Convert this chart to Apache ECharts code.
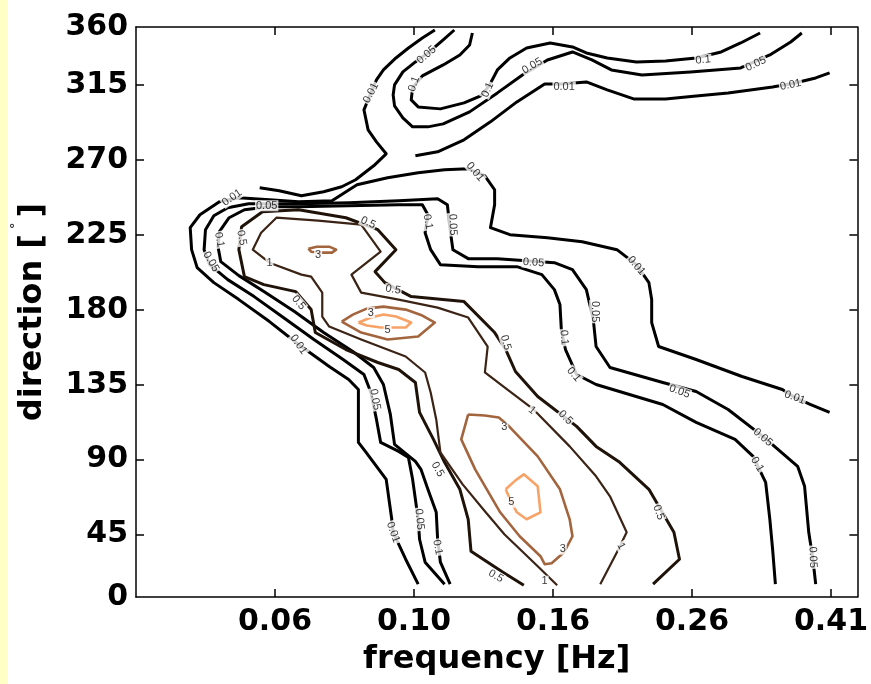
<!DOCTYPE html>
<html>
<head>
<meta charset="utf-8">
<script src="https://cdn.jsdelivr.net/npm/echarts@6/dist/echarts.min.js"></script>
<style>
  html, body { margin: 0; padding: 0; background: #fff; }
  #chart { width: 871px; height: 684px; }
</style>
</head>
<body>
<div id="chart"></div>
<script>
// x axis: frequency bin position (one unit per labelled tick), y axis: direction in degrees
var freqTicks = [0, 1, 2, 3, 4];
var freqLabels = ['0.06', '0.10', '0.16', '0.26', '0.41'];
var dirTicks = [45, 90, 135, 180, 225, 270, 315];
var dirLabelPos = [7.5, 45, 90, 135, 180, 225, 270, 315, 350];
var dirLabels = ['0', '45', '90', '135', '180', '225', '270', '315', '360'];

// contour lines, [frequency position, direction]
var c001NeUpper = [[-0.11,253.4],[0.03,251.6],[0.19,248.6],[0.35,251],[0.48,254],[0.58,258.2],[0.71,266.6],[0.80,273.8],[0.73,281],[0.67,288.2],[0.64,300.2],[0.69,310.4],[0.73,318.2],[0.78,324.2],[0.87,331.4],[0.96,337.4],[1.06,343.4],[1.15,348.2]];
var c001NeLower = [[1.01,272.6],[1.17,275],[1.36,282.2],[1.55,293],[1.74,305],[1.94,315.8],[2.06,315.8],[2.24,317],[2.39,312.2],[2.58,306.8],[2.81,306.8],[3.03,308.6],[3.26,310.4],[3.58,314],[3.74,316.4],[3.89,319.4],[3.99,322.4]];
var c005Ne = [[1.29,348.2],[1.21,342.2],[1.11,335],[1.01,329],[0.92,323],[0.86,315.2],[0.85,309.2],[0.86,302.6],[0.92,295.4],[0.99,290],[1.10,290],[1.21,291.8],[1.40,299],[1.60,310.4],[1.78,321.2],[1.96,330.2],[2.14,335],[2.28,330.2],[2.42,324.2],[2.64,321.2],[2.99,323],[3.35,325.4],[3.56,333.2],[3.71,341],[3.79,346.4]];
var c01Ne = [[1.42,346.4],[1.40,339.2],[1.33,333.2],[1.21,327.2],[1.06,320.6],[0.99,313.4],[0.98,306.2],[1.03,302],[1.19,300.8],[1.36,304.4],[1.48,308.6],[1.54,314.6],[1.60,324.2],[1.69,331.4],[1.81,337.4],[1.98,340.4],[2.14,338],[2.24,334.4],[2.39,331.4],[2.60,329],[2.81,329.6],[3.03,331.4],[3.21,335],[3.35,340.4],[3.49,346.4]];

var c001Sw = [[1.03,15.2],[0.94,30.2],[0.85,46.4],[0.84,54.2],[0.80,78.2],[0.65,95],[0.60,100.4],[0.60,132.2],[0.53,138.2],[0.39,146],[0.17,159.2],[-0.04,173],[-0.26,186.2],[-0.44,196.4],[-0.56,205.4],[-0.60,216.2],[-0.61,229.4],[-0.54,237.2],[-0.40,245],[-0.26,247.4],[-0.04,246.2],[0.17,245],[0.41,245.6],[0.59,255.2],[0.81,259.4],[1.03,262.4],[1.22,264.2],[1.39,264.8],[1.51,260.6],[1.58,252.2],[1.58,243.2],[1.55,229.4],[1.69,225.2],[1.96,223.4],[2.21,221],[2.46,216.2],[2.60,207.2],[2.69,196.4],[2.71,186.2],[2.71,172.4],[2.76,158],[3.03,150.2],[3.36,140],[3.65,132.2],[3.74,127.4],[3.85,123.2],[3.99,118.4]];
var c005Sw = [[1.22,15.2],[1.08,28.4],[1.04,42.2],[1.03,54.2],[1.01,66.2],[0.99,78.2],[0.96,91.4],[0.89,95],[0.76,100.4],[0.73,114.2],[0.69,130.4],[0.64,141.2],[0.49,150.2],[0.28,162.2],[0.06,175.4],[-0.15,188],[-0.34,198.2],[-0.47,207.2],[-0.51,216.2],[-0.50,228.2],[-0.44,236.6],[-0.34,241.4],[-0.19,243.8],[0.17,243.8],[0.53,244.4],[0.89,245.6],[1.17,246.8],[1.24,243.2],[1.26,228.2],[1.28,216.2],[1.39,210.8],[1.60,210.8],[1.81,209.6],[2.01,208.4],[2.14,204.2],[2.24,192.2],[2.29,174.2],[2.31,158],[2.41,145.4],[2.79,136.4],[3.03,131],[3.26,120.2],[3.51,104],[3.76,86],[3.81,74],[3.84,46.4],[3.87,30.2],[3.89,15.2]];
var c01Sw = [[1.26,15.2],[1.19,28.4],[1.17,42.2],[1.16,58.4],[1.10,72.2],[1.05,84.2],[1.01,89],[0.86,99.2],[0.83,117.2],[0.78,135.2],[0.71,145.4],[0.56,155],[0.35,166.4],[0.14,179],[-0.08,191],[-0.26,200.6],[-0.39,209],[-0.41,218],[-0.40,227],[-0.33,235.4],[-0.22,240.2],[-0.04,242],[0.17,242],[0.53,242.6],[0.89,243.2],[1.06,243.2],[1.10,237.2],[1.08,226.4],[1.12,216.2],[1.19,207.2],[1.46,206],[1.74,206],[1.92,201.2],[2.01,192.2],[2.05,183.2],[2.06,168.2],[2.09,156.2],[2.17,141.2],[2.31,135.2],[2.79,123.2],[3.03,112.4],[3.31,102.2],[3.44,92],[3.53,76.4],[3.56,54.2],[3.58,36.2],[3.60,15.2]];
var c05 = [[1.79,14.6],[1.64,22.4],[1.41,35],[1.39,54.2],[1.33,72.2],[1.22,88.4],[1.14,102.2],[1.04,118.4],[1.01,136.4],[0.89,144.2],[0.74,148.4],[0.51,156.2],[0.29,166.4],[0.26,180.2],[0.15,191],[-0.08,195.2],[-0.22,200],[-0.26,216.2],[-0.24,230],[-0.09,239],[0.17,240.2],[0.51,235.4],[0.74,228.2],[0.87,216.2],[0.72,203],[0.79,196.4],[0.98,188],[1.36,185],[1.58,166.4],[1.66,156.2],[1.73,143],[1.89,128],[2.17,110],[2.31,98],[2.48,88.4],[2.69,72.2],[2.87,46.4],[2.91,30.2],[2.72,15.2]];
var c1 = [[2.03,14.6],[1.89,26],[1.65,45.2],[1.51,59],[1.35,75.2],[1.19,94.4],[1.16,114.2],[1.12,130.4],[1.08,142.4],[0.94,152],[0.62,162.2],[0.39,170],[0.34,176],[0.34,190.4],[0.26,200],[0.19,201.2],[-0.04,208.4],[-0.16,216.2],[-0.10,226.4],[0.01,235.4],[0.31,233.6],[0.62,231.2],[0.76,215],[0.55,201.2],[0.62,190.4],[0.89,186.2],[1.17,181.4],[1.39,175.4],[1.53,158],[1.51,142.4],[1.67,132.2],[1.86,120.2],[2.12,98],[2.31,80],[2.41,68],[2.53,46.4],[2.46,34.4],[2.34,15.2]];
var c3Left = [[0.24,216.8],[0.30,218],[0.39,218],[0.44,216.2],[0.41,214.4],[0.33,214.4],[0.26,215],[0.24,216.8]];
var c3Mid = [[0.48,173],[0.56,177.2],[0.66,180.8],[0.78,182],[0.94,180.2],[1.06,176.6],[1.15,172.4],[1.03,164],[0.81,162.2],[0.62,166.4],[0.48,173]];
var c5Mid = [[0.60,172.4],[0.69,175.4],[0.78,177.2],[0.87,176],[0.98,172.4],[0.94,169.4],[0.76,169.4],[0.66,170.6],[0.60,172.4]];
var c3Low = [[1.39,117.2],[1.51,116.6],[1.61,115.4],[1.67,111.2],[1.89,92],[2.05,72.2],[2.12,54.2],[2.14,44],[2.08,34.4],[1.99,27.8],[1.94,27.2],[1.91,32],[1.76,44],[1.62,58.4],[1.44,84.2],[1.34,102.2],[1.39,117.2]];
var c5Low = [[1.66,72.2],[1.73,77.6],[1.79,81.2],[1.89,74],[1.91,58.4],[1.81,54.2],[1.74,58.4],[1.69,66.2],[1.66,72.2]];

var contours = [
  { level: '0.01', pts: c001NeUpper }, { level: '0.01', pts: c001NeLower },
  { level: '0.05', pts: c005Ne }, { level: '0.1', pts: c01Ne },
  { level: '0.01', pts: c001Sw }, { level: '0.05', pts: c005Sw }, { level: '0.1', pts: c01Sw },
  { level: '0.5', pts: c05 }, { level: '1', pts: c1 },
  { level: '3', pts: c3Left }, { level: '3', pts: c3Mid }, { level: '5', pts: c5Mid },
  { level: '3', pts: c3Low }, { level: '5', pts: c5Low }
];

// contour labels: [x, direction, text, rotation]
var contourLabels = [
  [0.69,310.4,'0.01',63],[1.09,333.2,'0.05',40],[1.00,315.8,'0.1',70],[1.53,312.2,'0.1',65],
  [1.85,326.6,'0.05',30],[2.08,314,'0.01',0],[3.08,330.2,'0.1',5],[3.46,327.8,'0.05',25],[3.71,315.2,'0.01',12],
  [-0.31,247.4,'0.01',35],[-0.06,242.6,'0.05',0],[-0.40,222.2,'0.1',-80],[-0.46,209,'0.05',-60],
  [-0.24,223.4,'0.5',-80],[-0.04,208.4,'1',0],[0.67,232.4,'0.5',-25],[0.17,184.4,'0.5',-50],
  [0.17,159.2,'0.01',-55],[0.85,192.2,'0.5',-10],[0.72,126.2,'0.05',-80],[0.85,46.4,'0.01',-70],
  [1.04,54.2,'0.05',-85],[1.17,37.4,'0.1',-80],[1.59,20,'0.5',-30],[1.17,84.2,'0.5',-60],
  [1.65,109.4,'3',0],[2.07,36.2,'3',0],[1.70,64.4,'5',0],[0.69,178.4,'3',0],[0.81,168.2,'5',0],[0.31,213.2,'3',0],
  [1.66,160.4,'0.5',-75],[2.09,115.4,'0.5',-45],[1.86,208.4,'0.05',-3],[2.30,179,'0.05',-90],
  [2.08,163.4,'0.1',-85],[2.15,141.2,'0.1',-50],[2.60,206.6,'0.01',-50],[2.91,131,'0.05',-20],
  [3.51,103.4,'0.05',-40],[3.47,87.2,'0.1',-60],[3.87,31.4,'0.05',-88],[3.74,127.4,'0.01',-20],
  [2.76,58.4,'0.5',-70],[1.44,263,'0.01',-50],[1.28,231.2,'0.05',-88],[1.10,233,'0.1',-80],
  [1.85,119.6,'1',-40],[1.94,17,'1',0],[2.49,38,'1',-60]
];

var levelStyle = {
  '0.01': { color: '#000000', width: 3 },
  '0.05': { color: '#000000', width: 3 },
  '0.1':  { color: '#000000', width: 3 },
  '0.5':  { color: '#1f1209', width: 3 },
  '1':    { color: '#3b2415', width: 2.2 },
  '3':    { color: '#a3653d', width: 2.6 },
  '5':    { color: '#f7a267', width: 2.6 }
};

var chart = echarts.init(document.getElementById('chart'));

var series = contours.map(function (c) {
  var st = levelStyle[c.level];
  return {
    name: c.level,
    type: 'line',
    data: c.pts,
    showSymbol: false,
    symbol: 'none',
    silent: true,
    z: 2,
    lineStyle: { color: st.color, width: st.width, join: 'round' }
  };
});

series.push({
  type: 'scatter',
  symbolSize: 1,
  silent: true,
  z: 5,
  itemStyle: { color: 'rgba(0,0,0,0)' },
  label: {
    show: true,
    position: 'inside',
    fontFamily: 'Liberation Sans',
    fontSize: 11,
    color: '#000',
    backgroundColor: '#fff',
    padding: [0, 1],
    formatter: function (p) { return p.data.t; }
  },
  data: contourLabels.map(function (l) {
    return { value: [l[0], l[1]], t: l[2], label: { rotate: l[3] } };
  })
});

var axisFont = { fontFamily: 'DejaVu Sans', fontWeight: 'bold', fontSize: 30, color: '#000' };
var lineStyle = { color: '#000', width: 1.5 };

var option = {
  animation: false,
  backgroundColor: '#fff',
  grid: { left: 136, right: 8, top: 27, bottom: 87, containLabel: false },
  graphic: [{
    type: 'rect', left: 0, top: 0, z: -10,
    shape: { width: 8, height: 684 },
    style: { fill: '#ffffc6' }
  }],
  xAxis: [{
    type: 'value', min: -1, max: 4.19, position: 'bottom',
    axisLine: { show: true, onZero: false, lineStyle: lineStyle },
    axisTick: { show: true, inside: true, length: 8, customValues: freqTicks, lineStyle: lineStyle },
    axisLabel: Object.assign({ customValues: freqTicks, margin: 10,
      formatter: function (v) { return freqLabels[freqTicks.indexOf(v)]; } }, axisFont),
    splitLine: { show: false },
    name: 'frequency [Hz]', nameLocation: 'middle', nameGap: 47,
    nameTextStyle: { fontFamily: 'DejaVu Sans', fontWeight: 'bold', fontSize: 32, color: '#000' }
  }, {
    type: 'value', min: -1, max: 4.19, position: 'top',
    axisLine: { show: true, onZero: false, lineStyle: lineStyle },
    axisTick: { show: true, inside: true, length: 8, customValues: freqTicks, lineStyle: lineStyle },
    axisLabel: { show: false },
    splitLine: { show: false }
  }],
  yAxis: [{
    type: 'value', min: 7.5, max: 350, position: 'left',
    axisLine: { show: true, onZero: false, lineStyle: lineStyle },
    axisTick: { show: true, inside: true, length: 8, customValues: dirTicks, lineStyle: lineStyle },
    axisLabel: Object.assign({ customValues: dirLabelPos, margin: 8,
      formatter: function (v) { return dirLabels[dirLabelPos.indexOf(v)]; } }, axisFont),
    splitLine: { show: false },
    name: 'direction [{deg|°}]', nameLocation: 'middle', nameGap: 80, nameRotate: 90,
    nameTextStyle: {
      fontFamily: 'DejaVu Sans', fontWeight: 'bold', fontSize: 32, color: '#000',
      rich: { deg: { fontFamily: 'DejaVu Sans', fontSize: 13, fontWeight: 'normal', color: '#000', verticalAlign: 'top', padding: [0, 5, 34, 5] } }
    }
  }, {
    type: 'value', min: 7.5, max: 350, position: 'right',
    axisLine: { show: true, onZero: false, lineStyle: lineStyle },
    axisTick: { show: true, inside: true, length: 8, customValues: dirTicks, lineStyle: lineStyle },
    axisLabel: { show: false },
    splitLine: { show: false }
  }],
  series: series
};

chart.setOption(option);
</script>
</body>
</html>
